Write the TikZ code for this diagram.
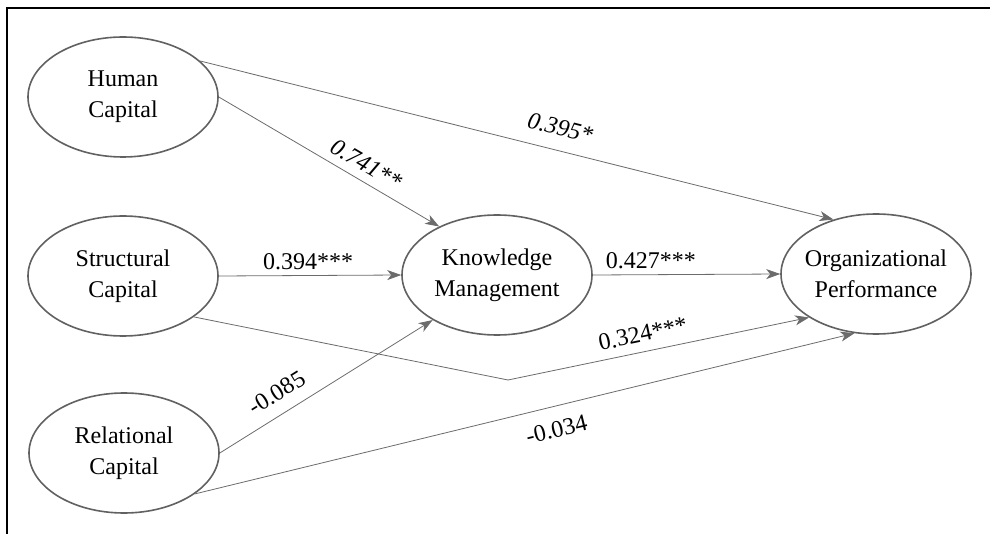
\documentclass[tikz,border=0pt]{standalone}
\usepackage{fontspec}
\setmainfont{Liberation Serif}
\usetikzlibrary{shapes.geometric,arrows.meta}
\definecolor{edgegray}{gray}{0.42}
\definecolor{ovalgray}{gray}{0.38}

\begin{document}
\begin{tikzpicture}[x=1pt,y=-1pt]
\tikzstyle{every node}=[font=\fontsize{24}{31}\selectfont]
\tikzstyle{latent}=[draw=ovalgray, line width=1.6pt, ellipse, align=center, inner xsep=-4pt, inner ysep=0pt, minimum width=190pt, minimum height=120pt]
\tikzstyle{link}=[draw=edgegray, line width=0.8pt, -{Stealth[length=14pt,width=10pt,inset=4pt]}]

\useasboundingbox (0,0) rectangle (990,534);
\draw[line width=1.5pt] (990,8) -- (7,8) -- (7,534);

\node[latent] (hc) at (123, 97) {Human\\Capital};
\node[latent] (sc) at (123,276) {Structural\\Capital};
\node[latent] (rc) at (124,453) {Relational\\Capital};
\node[latent] (km) at (497,275) {Knowledge\\Management};
\node[latent] (op) at (876,274) {Organizational\\Performance};
\coordinate (bend) at (508,380);

\draw[link] (hc.25)  -- (op.128) node[above=11pt, pos=0.56, sloped] {\itshape 0.395*};
\draw[link] (hc.0)   -- (km.140) node[above=5pt, pos=0.63, sloped]  {\itshape 0.741**};
\draw[link] (sc.east) -- (km.west) node[above=2pt, pos=0.49]         {0.394***};
\draw[link] (km.east) -- (op.west) node[above=2pt, pos=0.31]         {0.427***};
\draw[link] (sc.-30) -- (bend) -- (op.213) node[above=6pt, pos=0.46, sloped] {0.324***};
\draw[link] (rc.0)   -- (km.215) node[above=9pt, pos=0.32, sloped]  {-0.085};
\draw[link] (rc.-30) -- (op.250) node[below=11pt, pos=0.54, sloped] {-0.034};
\end{tikzpicture}
\end{document}
